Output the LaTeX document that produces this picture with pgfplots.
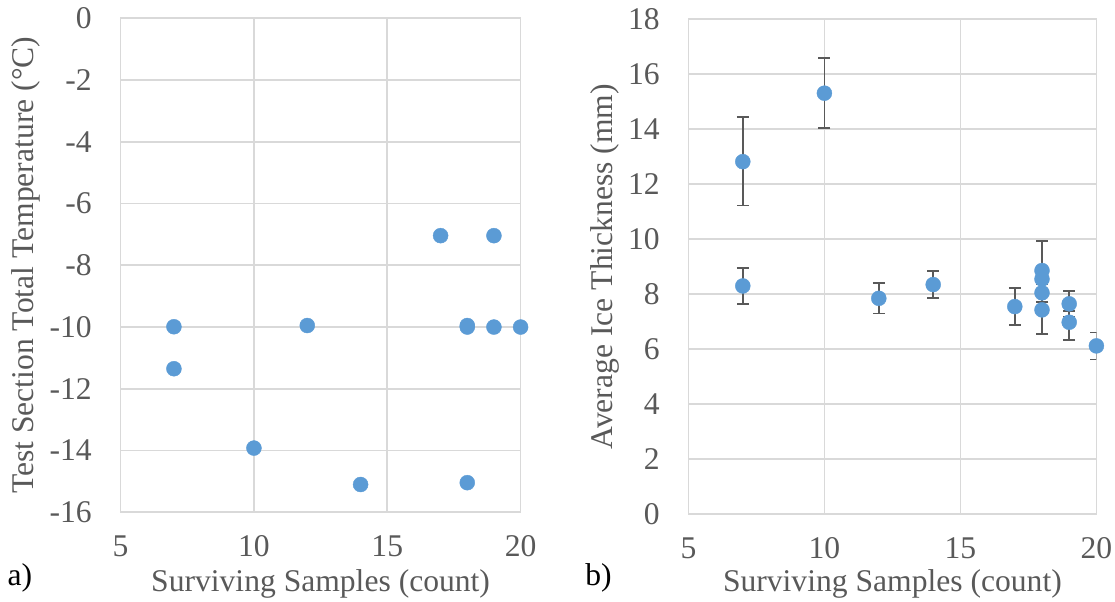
\documentclass[border=0pt]{standalone}
\usepackage{pgfplots}
\pgfplotsset{compat=1.18}
\usepackage{pgfplotstable}
\usepackage{fontspec}
\setmainfont{Liberation Serif}

\definecolor{dot}{HTML}{5B9BD5}
\definecolor{txt}{HTML}{595959}
\definecolor{gridc}{HTML}{D9D9D9}
\definecolor{errc}{HTML}{595959}

% a) temperature vs surviving samples
\pgfplotstableread{
x   y
7   -9.99
7   -11.35
10  -13.92
12  -9.95
14  -15.10
17  -7.04
18  -9.95
18  -10.00
18  -15.04
19  -7.04
19  -10.00
20  -10.00
}\temps

% b) ice thickness with asymmetric error bars
\pgfplotstableread{
x   y      ep    em
7   12.82  1.63  1.60
7   8.30   0.65  0.65
10  15.31  1.27  1.27
12  7.85   0.55  0.55
14  8.35   0.50  0.50
17  7.55   0.67  0.67
18  8.86   1.08  1.14
18  8.55   0.40  0.40
18  8.05   0.30  0.33
18  7.43   0.30  0.87
19  7.65   0.46  0.46
19  6.98   0.40  0.65
20  6.12   0.49  0.49
}\ice

\pgfplotsset{
  panel/.style={
    scale only axis,
    anchor=south west,
    font=\fontsize{15.8}{18}\selectfont,
    /pgf/number format/assume math mode=true,
    xmin=5, xmax=20,
    xtick={5,10,15,20},
    grid=major,
    major grid style={draw=gridc, line width=0.9pt},
    axis line style={draw=gridc, line width=0.9pt},
    tick style={draw=none},
    ticklabel style={text=txt},
    xticklabel style={anchor=base, yshift=-22.3pt},
    yticklabel style={anchor=east, inner sep=0pt, xshift=-14.2pt},
    label style={text=txt},
    xlabel style={at={(axis description cs:0.5,0)}, anchor=base},
  },
}

\begin{document}
\begin{tikzpicture}
\path[use as bounding box] (0,0) rectangle (557.5pt,300.5pt);

\begin{axis}[panel,
  at={(60.3pt,44.35pt)},
  width=200pt, height=247pt,
  ymin=-16, ymax=0,
  ytick={-16,-14,-12,-10,-8,-6,-4,-2,0},
  yticklabels={-16,-14,-12,-10,-8,-6,-4,-2,0},
  xlabel={Surviving Samples (count)},
  ylabel={Test Section Total Temperature (°C)},
  xlabel style={yshift=-39.4pt},
  ylabel style={at={(axis description cs:-0.2175,0.5)}, anchor=base},
]
\addplot[dot, only marks, mark=*, mark size=3.75pt, mark options={draw=dot, fill=dot, line width=0.2pt}]
  table[x=x, y=y] {\temps};
\end{axis}

\begin{axis}[panel,
  at={(344.2pt,43.4pt)},
  width=204pt, height=247.5pt,
  ymin=0, ymax=18,
  ytick={0,2,...,18},
  xlabel={Surviving Samples (count)},
  ylabel={Average Ice Thickness (mm)},
  xlabel style={yshift=-38.4pt},
  ylabel style={at={(axis description cs:-0.1853,0.5)}, anchor=base},
]
\addplot[dot, only marks, mark=*, mark size=3.75pt, mark options={draw=dot, fill=dot, line width=0.2pt},
  error bars/.cd, y dir=both, y explicit,
  error bar style={draw=errc, line width=0.85pt},
  error mark options={draw=errc, line width=0.85pt, mark size=3pt, rotate=90}]
  table[x=x, y=y, y error plus=ep, y error minus=em] {\ice};
\end{axis}

\node[anchor=base west, inner sep=0pt, font=\fontsize{15.8}{18}\selectfont] at (3.6pt,8pt) {a)};
\node[anchor=base west, inner sep=0pt, font=\fontsize{15.8}{18}\selectfont] at (292.5pt,8pt) {b)};
\end{tikzpicture}
\end{document}
